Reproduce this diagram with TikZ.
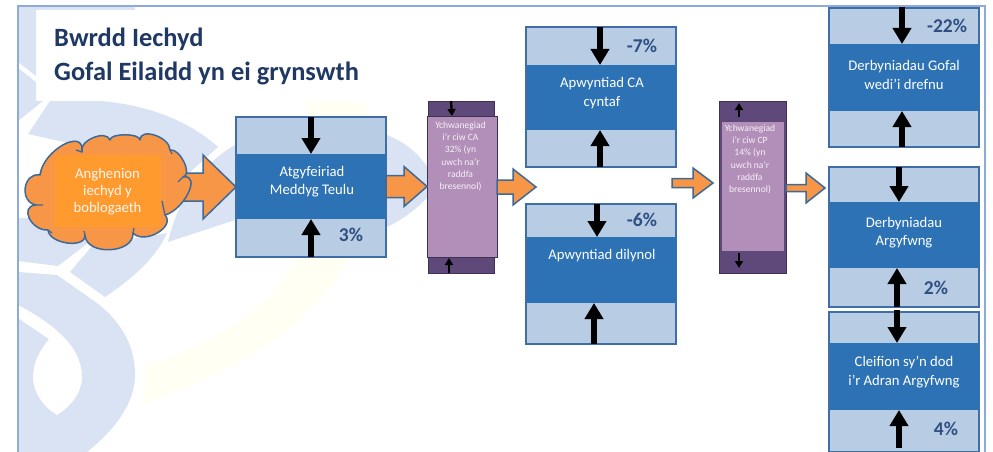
\documentclass[tikz,border=0pt]{standalone}
\usepackage{fontspec}
\setmainfont{Carlito}
\usetikzlibrary{calc,arrows.meta}
\definecolor{wm}{HTML}{DAE3F3}
\definecolor{wy}{HTML}{FFFFF3}
\definecolor{frameblue}{HTML}{8EA9DB}
\definecolor{boxedge}{HTML}{3F6EA6}
\definecolor{boxlight}{HTML}{B8CCE4}
\definecolor{boxband}{HTML}{2C72B4}
\definecolor{orangeA}{HTML}{F79646}
\definecolor{orangeB}{HTML}{FF9A2E}
\definecolor{arrowedge}{HTML}{3D6A99}
\definecolor{navy}{HTML}{1F3864}
\definecolor{pct}{HTML}{2F4F82}
\definecolor{purpleD}{HTML}{5F497A}
\definecolor{purpleE}{HTML}{3F3151}
\definecolor{purpleL}{HTML}{B28FB8}
\tikzset{
  stagebox/.style={draw=boxedge,line width=1.4pt,fill=boxlight,minimum width=150pt,inner sep=0pt,outer sep=0pt},
  stageband/.style={fill=boxband,minimum width=149pt,inner sep=0pt,outer sep=0pt},
  bandtext/.style={text=white,font=\fontsize{14.7}{18.5}\selectfont,align=center,inner sep=0pt},
  pcttext/.style={text=pct,font=\fontsize{19.5}{21}\selectfont\bfseries,inner sep=0pt},
  blk/.style={draw=black,line width=5.5pt,-{Triangle[width=18pt,length=16pt]},shorten >=0pt},
  smallblk/.style={draw=black,line width=2.4pt,-{Triangle[width=8pt,length=7pt]}},
  blockarr/.style={draw=arrowedge,line width=1.5pt,fill=orangeA,line join=miter},
  darkbar/.style={draw=purpleE,line width=1pt,fill=purpleD,minimum width=66pt,inner sep=0pt,outer sep=0pt},
  lightbar/.style={fill=purpleL,inner sep=0pt,outer sep=0pt},
  qtext/.style={text=white!88!purpleL,font=\fontsize{9.6}{12.3}\selectfont,align=center,inner sep=0pt,anchor=north},
  wmfill/.style={fill=wm,draw=none},
}
% start, tip, head length, half tail, half head
\newcommand{\blockarrow}[5]{%
  \draw[blockarr] ($(#1 |- #2)+(0,-#4)$) -- ($(#2)+(-#3,-#4)$) -- ($(#2)+(-#3,-#5)$) -- (#2)
    -- ($(#2)+(-#3,#5)$) -- ($(#2)+(-#3,#4)$) -- ($(#1 |- #2)+(0,#4)$) -- cycle;}
% name, xcentre, ytop, ybottom, bandtop, bandbottom
\newcommand{\stage}[6]{%
  \node[stagebox,minimum height={(#4-#3)*1pt}] (#1) at (#2,{(#3+#4)/2}) {};
  \node[stageband,minimum height={(#6-#5)*1pt}] (#1b) at (#2,{(#5+#6)/2}) {};}
\begin{document}
\begin{tikzpicture}[x=1pt,y=-1pt]
\useasboundingbox (0,0) rectangle (993,452);
\fill[white] (0,0) rectangle (993,452);
% watermark
\fill[wy] (305,102) -- (365,102) .. controls (378,170) and (368,225) .. (350,257)
  .. controls (310,330) and (230,375) .. (143,403) -- (147,365)
  .. controls (215,345) and (275,305) .. (297,257) .. controls (315,215) and (320,160) .. (305,102) -- cycle;
\fill[wmfill] (18,6) -- (135,6) -- (135,10) -- (36,10) -- (36,76) -- (18,62) -- cycle;
\fill[wmfill] (18,68) -- (36,82) -- (36,101) -- (43,101) -- (18,121) -- cycle;
\fill[wmfill] (50,101) -- (100,101) .. controls (150,105) and (190,122) .. (218,147) -- (170,190) -- (100,150) -- (28,134) -- cycle;
\fill[wmfill] (18,218) -- (70,218) -- (92,240) -- (58,266) -- (18,261) -- cycle;
\fill[wmfill] (70,272) -- (92,246) -- (167,233) .. controls (155,260) and (130,280) .. (105,297) -- cycle;
\fill[wmfill] (18,272) -- (57,275) -- (97,303) .. controls (125,325) and (135,350) .. (135,375)
  .. controls (135,405) and (112,432) .. (87,452) -- (18,452) -- cycle;
\fill[white] (18,305) .. controls (50,322) and (82,345) .. (82,377) .. controls (82,393) and (70,407) .. (57,415)
  .. controls (44,407) and (33,393) .. (33,377) .. controls (33,362) and (41,349) .. (49,339) -- (18,318) -- cycle;
\fill[wmfill] (168,242) .. controls (178,200) and (200,165) .. (235,145) -- (387,135)
  .. controls (405,142) and (418,153) .. (428,168) -- (428,197) .. controls (415,210) and (402,220) .. (387,227) -- (235,220) -- cycle;
% frame
\draw[frameblue,line width=1.2pt] (18,452) -- (18,6) -- (985,6) -- (985,452);
% title
\node[text=navy,font=\fontsize{26.4}{34}\selectfont\bfseries,align=left,anchor=north west,inner sep=0pt] (title) at (54,28)
  {Bwrdd Iechyd\\Gofal Eilaidd yn ei grynswth};
% stages
\stage{gp}{311}{117}{257}{154}{219}
\stage{ca}{601}{27}{167}{65}{130}
\stage{dil}{601}{204}{344}{237}{303}
\stage{sch}{904}{8}{147}{44}{111}
\stage{eme}{904}{167}{307}{202}{268}
\stage{aed}{904}{312}{452}{343}{410}
\node[bandtext] (gpt) at (312,181.5) {Atgyfeiriad\\Meddyg Teulu};
\node[bandtext] (cat) at (602,93) {Apwyntiad CA\\cyntaf};
\node[bandtext] (dilt) at (602,256) {Apwyntiad dilynol};
\node[bandtext] (scht) at (904,75) {Derbyniadau Gofal\\wedi’i drefnu};
\node[bandtext] (emet) at (904,232.5) {Derbyniadau\\Argyfwng};
\node[bandtext] (aedt) at (904,372) {Cleifion sy’n dod\\i’r Adran Argyfwng};
\node[pcttext] (p3) at (351,235) {3\%};
\node[pcttext] (p7) at (642,46) {-7\%};
\node[pcttext] (p6) at (642,220) {-6\%};
\node[pcttext] (p22) at (947,26) {-22\%};
\node[pcttext] (p2) at (936,288) {2\%};
\node[pcttext] (p4) at (946,429) {4\%};
% purple bars
\node[darkbar,minimum height=172pt] (q1d) at (461,187) {};
\node[lightbar,draw=purpleE,line width=1pt,minimum width=70pt,minimum height=141pt] (q1) at (462,186.5) {};
\node[qtext] (q1t) at (460.5,121.5) {Ychwanegiad\\i’r ciw CA\\32\% (yn\\uwch na’r\\raddfa\\bresennol)};
\node[darkbar,minimum width=67pt,minimum height=172pt] (q2d) at (752.5,187) {};
\node[lightbar,minimum width=62pt,minimum height=129pt] (q2) at (753,186.5) {};
\node[qtext] (q2t) at (750,124.5) {Ychwanegiad\\i’r ciw CP\\14\% (yn\\uwch na’r\\raddfa\\bresennol)};
% black arrows
\draw[blk] ([xshift=0pt]gp.north) -- (gpb.north);
\draw[blk] ([xshift=0pt]gp.south) -- (gpb.south);
\draw[blk] ([xshift=-1pt]ca.north) -- ([xshift=-1pt]cab.north);
\draw[blk] ([xshift=-1pt]ca.south) -- ([xshift=-1pt]cab.south);
\draw[blk] ([xshift=-4pt]dil.north) -- ([xshift=-4pt]dilb.north);
\draw[blk] ([xshift=-7pt]dil.south) -- ([xshift=-7pt]dilb.south);
\draw[blk] ([xshift=-2pt,yshift=1pt]sch.north) -- ([xshift=-2pt]schb.north);
\draw[blk] ([xshift=-2pt]sch.south) -- ([xshift=-2pt]schb.south);
\draw[blk] ([xshift=-5pt]eme.north) -- ([xshift=-5pt]emeb.north);
\draw[blk] ([xshift=-7pt]eme.south) -- ([xshift=-7pt]emeb.south);
\draw[blk] ([xshift=-7pt,yshift=2pt]aed.north) -- ([xshift=-7pt]aedb.north);
\draw[blk] ([xshift=-5pt,yshift=4pt]aed.south) -- ([xshift=-5pt]aedb.south);
\draw[smallblk] ([xshift=-10pt]q1d.north) -- ([xshift=-10pt]q1.north);
\draw[smallblk] ([xshift=-12pt]q1d.south) -- ([xshift=-13pt,yshift=-1pt]q1.south);
\coordinate (q2a) at ($(q2d.north)+(-13.5,16)$);
\coordinate (q2b) at ($(q2d.north)+(-13.5,2)$);
\coordinate (q2c) at ($(q2d.south)+(-13.5,-20)$);
\coordinate (q2e) at ($(q2d.south)+(-13.5,-5)$);
\draw[smallblk] (q2a) -- (q2b);
\draw[smallblk] (q2c) -- (q2e);
% block arrows
\coordinate (a1s) at (170,187);
\coordinate (a3t) at (536,187);
\coordinate (a4s) at (672,183);
\coordinate (a4t) at (713,183);
\coordinate (a5t) at (825,188);
\blockarrow{a1s}{gp.west}{33}{14}{32}
\blockarrow{gp.east}{q1.west}{23}{11}{20}
\blockarrow{q1.east}{a3t}{23}{7}{18}
\blockarrow{a4s}{a4t}{20}{4.5}{15}
\blockarrow{q2d.east}{a5t}{19}{3.5}{15}
% cloud
\draw[arrowedge,line width=1.5pt,fill=orangeA,line join=round]
  (40,175) .. controls (23,172) and (19,202) .. (36,205)
  .. controls (19,206) and (31,231) .. (48,230)
  .. controls (49,244) and (86,249) .. (85,235)
  .. controls (86,256) and (134,254) .. (133,233)
  .. controls (144,245) and (176,227) .. (165,215)
  .. controls (184,210) and (202,174) .. (183,177)
  .. controls (193,175) and (180,148) .. (170,150)
  .. controls (170,137) and (140,127) .. (140,140)
  .. controls (140,133) and (110,133) .. (110,140)
  .. controls (106,129) and (78,141) .. (82,152)
  .. controls (85,127) and (43,150) .. (40,175) -- cycle;
\draw[arrowedge,line width=1.3pt]
  (36,205) -- (43,205) (165,215) -- (162,201) (183,177) -- (178,182)
  (48,230) -- (52,233) (85,235) -- (84,231) (133,233) -- (134,228)
  (170,150) -- (172,154) (82,152) -- (76,150) (40,175) -- (41,171);
\node[fill=orangeB,minimum width=106pt,minimum height=72pt,inner sep=0pt] (need) at (108,191) {};
\node[text=white!92!orangeB,font=\fontsize{14.7}{17}\selectfont,align=center,inner sep=0pt] (needt) at (107.5,192) {Anghenion\\iechyd y\\boblogaeth};
\end{tikzpicture}
\end{document}
